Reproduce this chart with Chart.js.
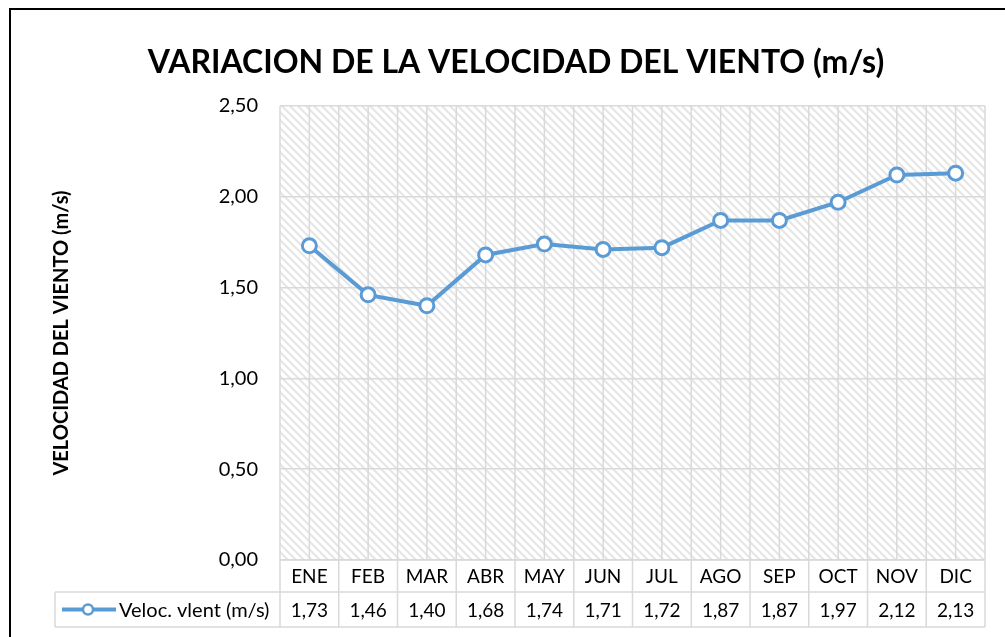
<!DOCTYPE html>
<html lang="es">
<head>
    <meta charset="UTF-8">
    <title>Variacion de la velocidad del viento</title>
    <script src="https://cdn.jsdelivr.net/npm/chart.js"></script>
    <style>
        body { margin: 0; background: #fff; }
        #wrap { width: 1005px; height: 637px; }
    </style>
</head>
<body>
    <div id="wrap">
        <canvas id="windChart" width="1005" height="637"></canvas>
    </div>

    <script>
        // Data
        var months = ['ENE', 'FEB', 'MAR', 'ABR', 'MAY', 'JUN', 'JUL', 'AGO', 'SEP', 'OCT', 'NOV', 'DIC'];
        var windSpeed = [1.73, 1.46, 1.40, 1.68, 1.74, 1.71, 1.72, 1.87, 1.87, 1.97, 2.12, 2.13];
        var seriesName = 'Veloc. vlent (m/s)';
        var chartTitle = 'VARIACION DE LA VELOCIDAD DEL VIENTO (m/s)';
        var yTitle = 'VELOCIDAD DEL VIENTO (m/s)';
        var yMin = 0, yMax = 2.5, yStep = 0.5;

        var FONT = 'Lato';
        var BLUE = '#5B9BD5';
        var GRID = '#d9d9d9';

        function fmt(v) { return v.toFixed(2).replace('.', ','); }

        // hatch pattern for the plot area (wide downward diagonal)
        function makeHatch(ctx) {
            var c = document.createElement('canvas');
            c.width = 8; c.height = 8;
            var p = c.getContext('2d');
            p.fillStyle = '#fff';
            p.fillRect(0, 0, 8, 8);
            p.strokeStyle = '#e6e6e6';
            p.lineWidth = 2.2;
            p.beginPath();
            p.moveTo(-2, -2); p.lineTo(10, 10);
            p.moveTo(-2, 6); p.lineTo(2, 10);
            p.moveTo(6, -2); p.lineTo(10, 2);
            p.stroke();
            return ctx.createPattern(c, 'repeat');
        }

        var backgroundPlugin = {
            id: 'background',
            beforeDraw: function(chart) {
                var ctx = chart.ctx, a = chart.chartArea;
                ctx.save();
                ctx.fillStyle = '#fff';
                ctx.fillRect(0, 0, chart.width, chart.height);
                // outer frame (only top/left visible)
                ctx.strokeStyle = '#000';
                ctx.lineWidth = 2;
                ctx.strokeRect(10, 9, chart.width + 20, chart.height + 20);
                ctx.fillStyle = makeHatch(ctx);
                ctx.fillRect(a.left, a.top, a.right - a.left, a.bottom - a.top);
                // title
                ctx.fillStyle = '#000';
                ctx.font = 'bold 32px ' + FONT;
                ctx.textAlign = 'center';
                ctx.textBaseline = 'middle';
                ctx.fillText(chartTitle, 516, 63);
                ctx.restore();
            },
            beforeDatasetsDraw: function(chart) {
                var ctx = chart.ctx, a = chart.chartArea, x = chart.scales.x;
                var half = (x.getPixelForValue(1) - x.getPixelForValue(0)) / 2;
                ctx.save();
                ctx.strokeStyle = GRID;
                ctx.lineWidth = 1.5;
                ctx.beginPath();
                months.forEach(function(m, i) {
                    var px = x.getPixelForValue(i);
                    ctx.moveTo(px - half, a.top); ctx.lineTo(px - half, a.bottom);
                    ctx.moveTo(px, a.top); ctx.lineTo(px, a.bottom);
                    if (i === months.length - 1) {
                        ctx.moveTo(px + half, a.top); ctx.lineTo(px + half, a.bottom);
                    }
                });
                ctx.stroke();
                ctx.restore();
            }
        };

        // data table under the plot
        var tablePlugin = {
            id: 'dataTable',
            afterDraw: function(chart) {
                var ctx = chart.ctx, a = chart.chartArea, x = chart.scales.x;
                var half = (x.getPixelForValue(1) - x.getPixelForValue(0)) / 2;
                var legendLeft = 55;
                var r0 = a.bottom, r1 = r0 + 32, r2 = r1 + 35;
                ctx.save();
                ctx.strokeStyle = GRID;
                ctx.lineWidth = 1.5;
                ctx.beginPath();
                ctx.moveTo(a.left, r0); ctx.lineTo(a.right, r0);
                ctx.moveTo(legendLeft, r1); ctx.lineTo(a.right, r1);
                ctx.moveTo(legendLeft, r2); ctx.lineTo(a.right, r2);
                ctx.moveTo(legendLeft, r1); ctx.lineTo(legendLeft, r2);
                months.forEach(function(m, i) {
                    var px = x.getPixelForValue(i);
                    ctx.moveTo(px - half, r0); ctx.lineTo(px - half, r2);
                    if (i === months.length - 1) {
                        ctx.moveTo(px + half, r0); ctx.lineTo(px + half, r2);
                    }
                });
                ctx.stroke();

                ctx.fillStyle = '#000';
                ctx.font = '19px ' + FONT;
                ctx.textAlign = 'center';
                ctx.textBaseline = 'middle';
                months.forEach(function(m, i) {
                    var px = x.getPixelForValue(i);
                    ctx.fillText(m, px, (r0 + r1) / 2 + 1);
                    ctx.fillText(fmt(windSpeed[i]), px, (r1 + r2) / 2 + 1);
                });

                // legend key
                var ky = (r1 + r2) / 2;
                ctx.strokeStyle = BLUE;
                ctx.lineWidth = 4;
                ctx.beginPath();
                ctx.moveTo(62, ky); ctx.lineTo(116, ky);
                ctx.stroke();
                ctx.beginPath();
                ctx.arc(88, ky, 5, 0, Math.PI * 2);
                ctx.fillStyle = '#fff';
                ctx.fill();
                ctx.lineWidth = 2.5;
                ctx.stroke();
                ctx.fillStyle = '#000';
                ctx.textAlign = 'left';
                ctx.font = '20px ' + FONT;
                ctx.fillText(seriesName, 119, ky + 1);
                ctx.restore();
            }
        };

        var ctx = document.getElementById('windChart').getContext('2d');
        var windChart = new Chart(ctx, {
            type: 'line',
            data: {
                labels: months,
                datasets: [{
                    label: seriesName,
                    data: windSpeed,
                    borderColor: BLUE,
                    borderWidth: 4,
                    pointRadius: 7,
                    pointBorderWidth: 3,
                    pointBackgroundColor: '#fff',
                    pointBorderColor: BLUE,
                    tension: 0
                }]
            },
            options: {
                responsive: false,
                animation: false,
                layout: { padding: { left: 0, right: 20, top: 106, bottom: 0 } },
                plugins: {
                    legend: { display: false },
                    tooltip: { enabled: false },
                    title: { display: false }
                },
                scales: {
                    x: {
                        offset: true,
                        grid: { display: false },
                        border: { display: false },
                        ticks: { display: false },
                        afterFit: function(s) { s.height = 77; }
                    },
                    y: {
                        min: yMin,
                        max: yMax,
                        grid: { color: GRID, lineWidth: 1.5, drawTicks: false },
                        border: { display: false },
                        ticks: {
                            stepSize: yStep,
                            color: '#000',
                            padding: 22,
                            font: { family: FONT, size: 20 },
                            callback: function(v) { return fmt(v); }
                        },
                        title: {
                            display: true,
                            text: yTitle,
                            color: '#000',
                            font: { family: FONT, size: 20, weight: 'bold' },
                            padding: { top: 50, bottom: 0 }
                        },
                        afterFit: function(s) { s.width = 280; }
                    }
                }
            },
            plugins: [backgroundPlugin, tablePlugin]
        });
    </script>
</body>
</html>
